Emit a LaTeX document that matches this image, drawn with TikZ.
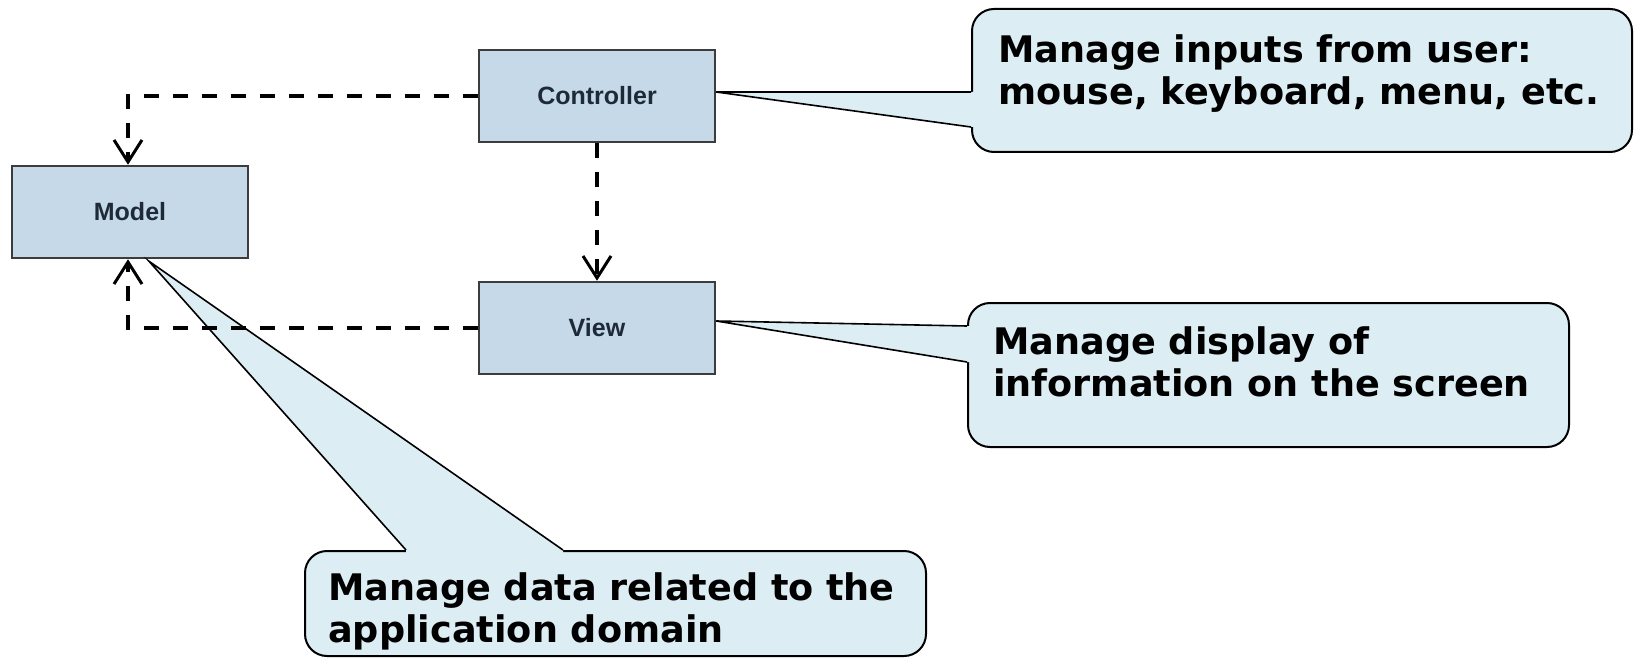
\documentclass[tikz,border=0pt]{standalone}
\usepackage{fontspec}
\setmainfont{DejaVu Sans}
\newfontfamily\boxfont{Liberation Sans}
\usetikzlibrary{arrows.meta,calc}
\definecolor{boxfill}{HTML}{C5D9E8}
\definecolor{boxline}{HTML}{3C3C3C}
\definecolor{boxtext}{HTML}{1E2A38}
\definecolor{callfill}{HTML}{DCEEF4}
\begin{document}
\begin{tikzpicture}[x=1pt,y=-1pt,
  mvc/.style={draw=boxline, line width=2.5pt, fill=boxfill, minimum width=236pt, minimum height=92pt, inner sep=0pt, font=\boxfont\bfseries\fontsize{25}{30}\selectfont, text=boxtext},
  callbox/.style={draw=black, line width=2pt, fill=callfill, rounded corners=22pt, inner sep=0pt, anchor=north west},
  calltext/.style={font=\bfseries\fontsize{36.6}{42.5}\selectfont, align=left, inner sep=0pt, anchor=north west},
  dep/.style={line width=4pt, dash pattern=on 15pt off 14pt, -{Straight Barb[length=22pt,width=28pt,line width=3pt]}},
  pointer/.style={draw=black, line width=1.6pt, line join=miter}
]
\useasboundingbox (0,0) rectangle (1634,658);
\fill[white] (0,0) rectangle (1634,658);

% MVC boxes
\node[mvc] (model) at (130,212) {Model};
\node[mvc] (ctrl) at (597,96) {Controller};
\node[mvc] (view) at (597,328) {View};

% callout boxes
\node[callbox, minimum width=660pt, minimum height=143pt] (c1) at (971,8) {};
\node[calltext] (t1) at (998,34) {Manage inputs from user:\\mouse, keyboard, menu, etc.};

\node[callbox, minimum width=601pt, minimum height=144pt] (c2) at (967,302) {};
\node[calltext] (t2) at (993,326) {Manage display of\\information on the screen};

\node[callbox, minimum width=621pt, minimum height=105pt] (c3) at (304,550) {};
\node[calltext] (t3) at (328,572) {Manage data related to the\\application domain};

% pointers
\coordinate (c1t) at ($(ctrl.east)+(0,-4)$);
\coordinate (c1a) at ($(c1.north west)+(0,84)$);
\coordinate (c1b) at ($(c1.north west)+(0,119)$);
\fill[callfill] (c1t) -- (c1a) -- ($(c1a)+(3,0)$) -- ($(c1b)+(3,0)$) -- (c1b) -- cycle;
\draw[pointer] (c1a) -- (c1t) -- (c1b);

\coordinate (c2t) at ($(view.east)+(0,-7)$);
\coordinate (c2a) at ($(c2.north west)+(0,24)$);
\coordinate (c2b) at ($(c2.north west)+(0,60)$);
\fill[callfill] (c2t) -- (c2a) -- ($(c2a)+(3,0)$) -- ($(c2b)+(3,0)$) -- (c2b) -- cycle;
\draw[pointer] (c2a) -- (c2t) -- (c2b);

\coordinate (c3t) at ($(model.south)+(19,2)$);
\coordinate (c3a) at ($(c3.north west)+(102,0)$);
\coordinate (c3b) at ($(c3.north west)+(259,0)$);
\fill[callfill] (c3t) -- (c3a) -- ($(c3a)+(0,3)$) -- ($(c3b)+(0,3)$) -- (c3b) -- cycle;
\draw[pointer] (c3a) -- (c3t) -- (c3b);

% dependencies
\draw[dep] (ctrl.west) -| ($(model.north)+(-2,0)$);
\draw[dep] (view.west) -| ($(model.south)+(-2,0)$);
\draw[dep] (ctrl.south) -- (view.north);
\end{tikzpicture}
\end{document}
